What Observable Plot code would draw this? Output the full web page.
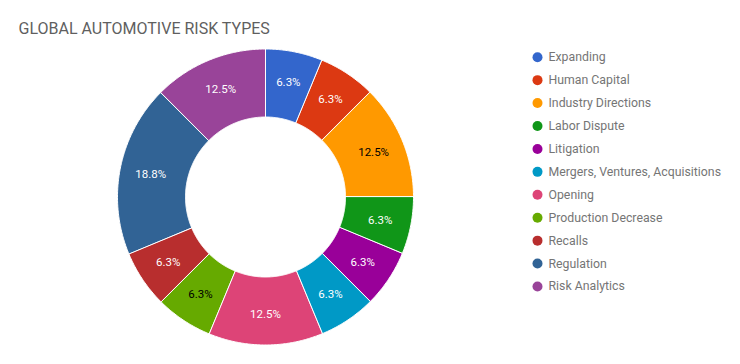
<!DOCTYPE html>
<html><head><meta charset="utf-8">
<script src="https://cdn.jsdelivr.net/npm/d3@7"></script>
<script src="https://cdn.jsdelivr.net/npm/@observablehq/plot@0.6"></script>
<style>html,body{margin:0;padding:0;background:#fff;}</style>
</head><body><div id="chart"></div>
<script>
// ---- data ----
const title = "GLOBAL AUTOMOTIVE RISK TYPES";
const categories = ["Expanding","Human Capital","Industry Directions","Labor Dispute","Litigation","Mergers, Ventures, Acquisitions","Opening","Production Decrease","Recalls","Regulation","Risk Analytics"];
const counts = [1,1,2,1,1,1,2,1,1,3,2];
const colors = ["#3366cc","#dc3912","#ff9900","#109618","#990099","#0099c6","#dd4477","#66aa00","#b82e2e","#316395","#994499"];
const darkLabel = ["Industry Directions","Production Decrease"];

// ---- layout ----
const W = 740, H = 364;
const cx = 265, cy = 196.5, rOuter = 148, rInner = 80, rLabel = 117;

const total = d3.sum(counts);
const arcs = d3.pie().sort(null).value(d => d.count)(categories.map((c, i) => ({key: c, count: counts[i]})));
const pt = (r, a) => ({x: cx + r * Math.sin(a), y: cy - r * Math.cos(a)});

// polygon outline of each slice, sampled along its arcs
const outline = arcs.flatMap(a => {
  const n = Math.max(8, Math.ceil((a.endAngle - a.startAngle) / 0.01));
  const out = d3.range(n + 1).map(k => a.startAngle + (a.endAngle - a.startAngle) * k / n);
  return [
    ...out.map(t => ({key: a.data.key, ...pt(rOuter, t)})),
    ...out.slice().reverse().map(t => ({key: a.data.key, ...pt(rInner, t)}))
  ];
});
const labels = arcs.map(a => ({
  key: a.data.key,
  text: (a.data.count / total * 100).toFixed(1) + "%",
  ...pt(rLabel, (a.startAngle + a.endAngle) / 2)
}));
const legendY = (d, i) => 56.7 + i * 22.93;

const chart = Plot.plot({
  width: W, height: H,
  margin: 0,
  style: {fontFamily: "Roboto, sans-serif", background: "#fff", overflow: "visible"},
  x: {domain: [0, W], range: [0, W], axis: null},
  y: {domain: [0, H], range: [0, H], axis: null},
  color: {domain: categories, range: colors},
  marks: [
    Plot.line(outline, {x: "x", y: "y", z: "key", fill: "key", stroke: "#fff", strokeWidth: 1, curve: "linear-closed"}),
    Plot.text(labels.filter(d => !darkLabel.includes(d.key)), {x: "x", y: "y", text: "text", fill: "#fff", fontSize: 11.5}),
    Plot.text(labels.filter(d => darkLabel.includes(d.key)), {x: "x", y: "y", text: "text", fill: "#000", fontSize: 11.5}),
    Plot.dot(categories, {x: () => 537, y: legendY, r: 5, fill: d => d}),
    Plot.text(categories, {x: () => 548, y: legendY, text: d => d, textAnchor: "start", fill: "#757575", fontSize: 12.3}),
    Plot.text([title], {x: () => 18, y: () => 28.5, text: d => d, textAnchor: "start", fill: "#5f5f5f", fontSize: 16})
  ]
});
document.getElementById("chart").append(chart);
</script>
</body></html>
